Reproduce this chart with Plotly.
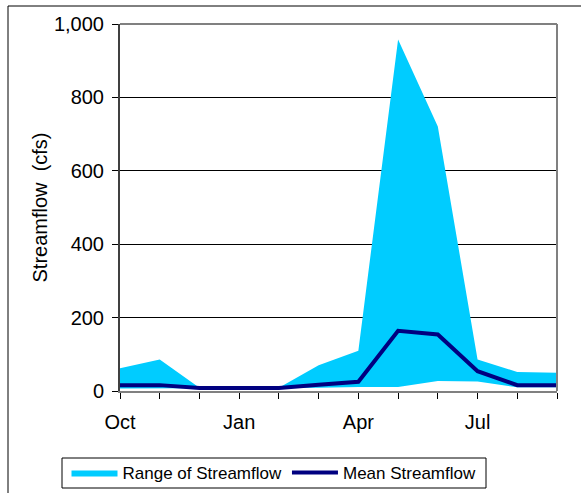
import plotly.graph_objects as go

# Monthly streamflow by water year (Oct..Sep), in cfs
months = ["Oct", "Nov", "Dec", "Jan", "Feb", "Mar", "Apr", "May", "Jun", "Jul", "Aug", "Sep"]
range_low = [7, 7, 8, 8, 8, 9, 11, 11, 27, 26, 10, 10]
range_high = [62, 86, 9, 9, 9, 70, 110, 958, 721, 86, 52, 50]
mean_flow = [16, 16, 8, 8, 8, 17, 25, 164, 154, 54, 16, 16]
tick_labels = ["Oct", "", "", "Jan", "", "", "Apr", "", "", "Jul", "", ""]

x = list(range(len(months)))
FILL = "#00CCFF"
LINE = "#000080"
FONT = "Liberation Sans, Arial, sans-serif"
FS = 20
LEG_FS = 17

fig = go.Figure()
fig.add_trace(go.Scatter(
    x=x, y=range_low, mode="lines", line=dict(width=0, color=FILL),
    showlegend=False, hoverinfo="skip",
))
fig.add_trace(go.Scatter(
    x=x, y=range_high, mode="lines", line=dict(width=0, color=FILL),
    fill="tonexty", fillcolor=FILL, name="Range of Streamflow",
))
fig.add_trace(go.Scatter(
    x=x, y=mean_flow, mode="lines", line=dict(width=4, color=LINE),
    name="Mean Streamflow",
))

W, H = 581, 493
L, R, T, B = 120, 24, 24, 102
pw, ph = W - L - R, H - T - B


def px_x(p):
    return (p - L) / pw


def px_y(p):
    return (H - B - p) / ph


fig.update_layout(
    width=W, height=H,
    margin=dict(l=L, r=R, t=T, b=B, autoexpand=False),
    paper_bgcolor="white", plot_bgcolor="white",
    font=dict(family=FONT, size=FS, color="black"),
    xaxis=dict(
        range=[0, 11], tickvals=x, ticktext=tick_labels,
        showgrid=False, zeroline=False,
        showline=True, linecolor="#808080", linewidth=2,
        ticks="outside", ticklen=6, tickcolor="#000000", tickwidth=1,
        ticklabelstandoff=6,
        mirror=False,
    ),
    yaxis=dict(
        range=[0, 1000], tickvals=[0, 200, 400, 600, 800, 1000],
        tickformat=",",
        showgrid=True, gridcolor="#000000", gridwidth=1,
        zeroline=False,
        showline=True, linecolor="#404040", linewidth=2,
        ticks="outside", ticklen=6, tickcolor="#000000", tickwidth=1,
        ticklabelstandoff=4,
        title=dict(text="Streamflow \u00a0(cfs)", font=dict(size=FS), standoff=1),
    ),
    legend=dict(
        orientation="h", x=px_x(274), xanchor="center", y=px_y(473), yanchor="middle",
        borderwidth=0, bgcolor="rgba(0,0,0,0)",
        font=dict(size=LEG_FS), itemwidth=46, traceorder="normal",
    ),
    shapes=[
        # gray frame on the top and right of the plot area
        dict(type="line", xref="paper", yref="paper", x0=0, x1=1, y0=1, y1=1,
             line=dict(color="#808080", width=2)),
        dict(type="line", xref="paper", yref="paper", x0=1, x1=1, y0=0, y1=1,
             line=dict(color="#808080", width=2)),
        # outer chart border
        dict(type="rect", xref="paper", yref="paper",
             x0=px_x(8), x1=px_x(590), y0=px_y(500), y1=px_y(6),
             line=dict(color="#000000", width=1), fillcolor="rgba(0,0,0,0)", layer="below"),
        # legend box
        dict(type="rect", xref="paper", yref="paper",
             x0=px_x(62), x1=px_x(486), y0=px_y(488), y1=px_y(458),
             line=dict(color="#000000", width=1), fillcolor="white", layer="below"),
    ],
)

fig.write_html("out.html")
